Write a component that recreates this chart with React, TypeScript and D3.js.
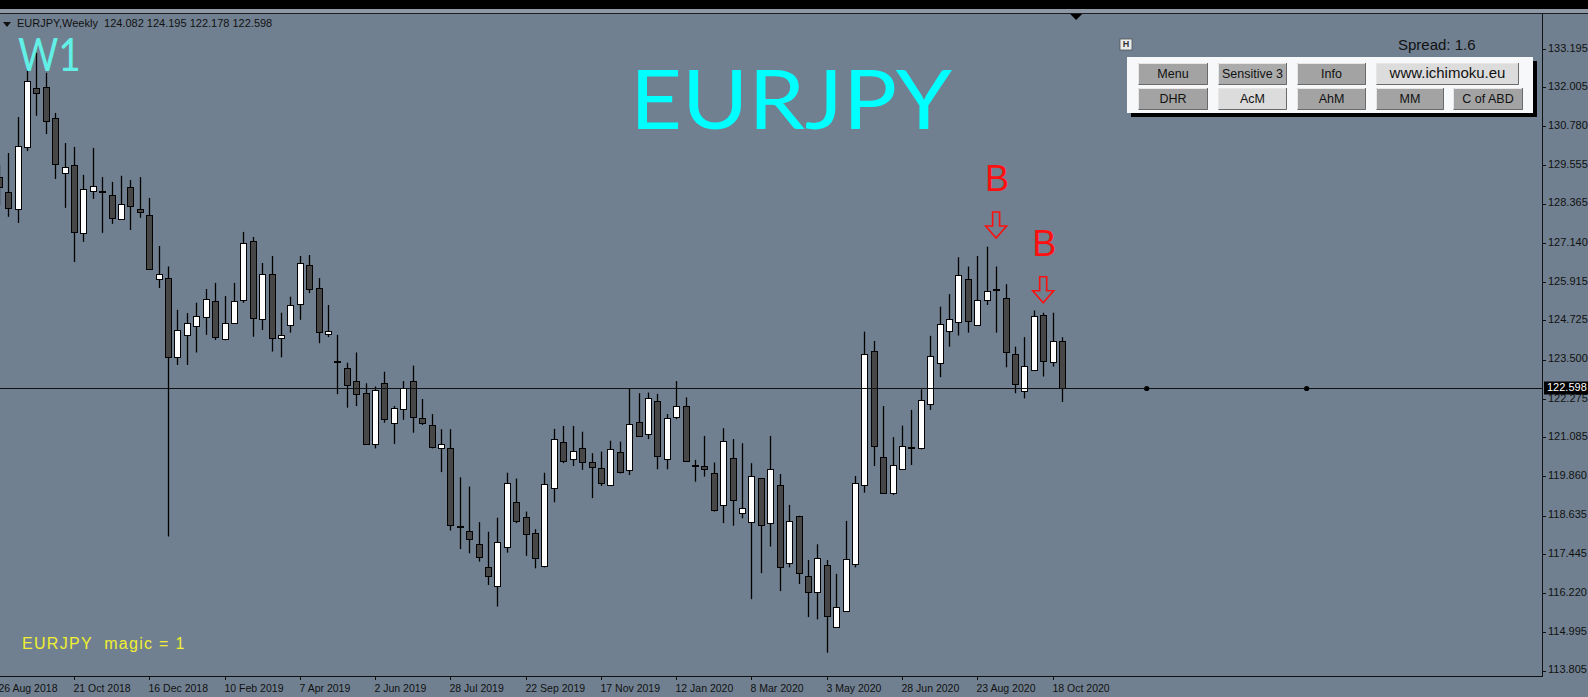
import React from 'react';
import * as d3 from 'd3';

const WIDTH = 1588;
const HEIGHT = 697;

const SYMBOL = 'EURJPY';
const TIMEFRAME = 'W1';
const PERIOD_NAME = 'Weekly';
const FIRST_WEEK = '26 Aug 2018';
const SPREAD = '1.6';
const MAGIC = 1;

const opens = [129.19, 128.73, 128.20, 130.13, 131.97, 132.00, 131.03, 129.32, 129.57, 127.45,
  128.76, 128.77, 128.63, 127.88, 128.88, 128.20, 128.01, 126.01, 126.05, 123.59,
  124.26, 124.55, 124.84, 125.32, 124.13, 124.65, 125.36, 127.20, 124.76, 126.16,
  124.16, 124.58, 125.23, 126.46, 125.72, 124.31, 123.46, 123.23, 122.82, 122.45,
  120.87, 122.76, 121.53, 121.95, 122.83, 121.69, 121.46, 120.73, 120.73, 118.31,
  118.16, 117.75, 117.02, 116.44, 117.67, 119.07, 118.60, 118.08, 117.07, 119.49,
  120.94, 120.39, 120.73, 120.30, 120.11, 119.59, 120.63, 120.06, 121.55, 121.18,
  122.21, 120.39, 121.72, 122.05, 120.20, 120.18, 119.95, 118.97, 120.44, 118.71,
  118.45, 119.80, 118.41, 119.59, 117.17, 118.63, 116.76, 116.24, 117.10, 115.17,
  115.66, 117.13, 119.59, 123.78, 120.47, 119.33, 120.08, 120.77, 120.73, 122.12,
  123.38, 124.39, 124.66, 126.01, 124.58, 125.36, 125.70, 125.43, 123.67, 122.53,
  123.18, 124.89, 123.42, 124.082];

const highs = [129.57, 129.94, 131.06, 132.81, 133.06, 132.44, 131.19, 130.25, 130.13, 129.26,
  130.10, 129.19, 129.04, 129.23, 129.10, 129.19, 128.54, 127.04, 126.40, 125.05,
  124.95, 125.27, 125.70, 125.89, 125.48, 125.89, 127.48, 127.32, 126.51, 126.73,
  124.96, 125.46, 126.73, 126.76, 126.04, 125.20, 124.27, 123.40, 123.72, 122.76,
  122.66, 123.12, 122.05, 122.83, 123.31, 122.27, 121.80, 121.33, 121.33, 119.83,
  119.54, 118.43, 118.13, 118.57, 119.97, 119.79, 118.76, 118.21, 119.97, 121.34,
  121.43, 121.43, 121.25, 120.58, 120.63, 120.97, 120.94, 122.61, 122.45, 122.47,
  122.43, 121.80, 122.83, 122.32, 120.37, 121.12, 120.29, 121.36, 121.02, 120.89,
  120.27, 119.80, 121.12, 119.93, 118.97, 118.63, 117.25, 117.74, 117.25, 116.82,
  118.47, 119.87, 124.37, 124.08, 122.05, 121.08, 121.44, 121.93, 122.57, 124.24,
  125.15, 125.54, 126.69, 126.40, 126.73, 127.02, 126.40, 125.85, 123.90, 124.20,
  125.03, 124.96, 124.96, 124.195];

const lows = [128.32, 127.95, 127.76, 130.00, 131.10, 130.53, 129.13, 128.23, 126.54, 127.17,
  128.51, 127.45, 127.73, 127.85, 127.54, 127.92, 126.29, 125.73, 117.98, 123.33,
  123.33, 123.72, 124.27, 124.11, 124.10, 124.61, 125.27, 124.21, 124.42, 123.75,
  123.57, 124.34, 124.74, 125.57, 124.01, 124.20, 122.42, 122.00, 122.05, 120.85,
  120.73, 121.53, 120.87, 121.62, 121.22, 121.46, 120.73, 119.99, 118.17, 117.59,
  117.46, 117.20, 116.47, 115.80, 117.48, 118.40, 117.38, 116.99, 117.02, 119.05,
  120.27, 120.18, 120.06, 119.18, 119.56, 119.56, 119.95, 119.90, 121.10, 121.02,
  120.08, 120.08, 121.64, 120.32, 119.69, 119.85, 118.76, 118.40, 118.32, 118.55,
  116.03, 116.84, 117.67, 116.28, 117.02, 116.50, 115.47, 115.40, 114.36, 115.15,
  115.63, 117.02, 119.35, 120.18, 119.31, 119.28, 120.06, 120.21, 120.70, 121.93,
  122.95, 123.90, 124.25, 124.34, 124.55, 125.20, 124.34, 123.26, 122.45, 122.29,
  123.16, 122.97, 123.28, 122.178];

const closes = [128.88, 128.23, 130.16, 132.19, 131.81, 130.94, 129.60, 129.51, 127.48, 128.82,
  128.91, 128.74, 127.92, 128.35, 128.29, 128.10, 126.33, 126.17, 123.59, 124.42,
  124.65, 124.87, 125.39, 124.21, 124.65, 125.32, 127.13, 124.81, 126.16, 124.18,
  124.27, 125.20, 126.50, 125.69, 124.35, 124.40, 123.44, 122.71, 122.42, 120.87,
  122.55, 121.64, 121.98, 122.61, 121.72, 121.53, 120.78, 120.87, 118.34, 118.27,
  117.90, 117.34, 116.76, 117.82, 119.66, 118.47, 118.05, 117.30, 119.62, 121.02,
  120.35, 120.66, 120.32, 120.16, 119.64, 120.70, 120.00, 121.49, 121.12, 122.31,
  120.50, 121.69, 122.05, 120.35, 120.18, 120.08, 118.81, 120.96, 119.12, 118.86,
  119.88, 118.34, 120.08, 117.02, 118.48, 116.84, 116.24, 117.30, 115.51, 115.80,
  117.27, 119.66, 123.67, 120.81, 119.35, 120.21, 120.81, 120.74, 122.24, 123.62,
  124.60, 124.77, 126.13, 124.71, 125.36, 125.65, 125.68, 123.73, 122.73, 123.30,
  124.87, 123.46, 124.09, 122.598];

const priceTicks = [133.195, 132.005, 130.780, 129.555, 128.365, 127.140, 125.915, 124.725,
  123.500, 122.275, 121.085, 119.860, 118.635, 117.445, 116.220, 114.995, 113.805];

const timeLabels = ['26 Aug 2018', '21 Oct 2018', '16 Dec 2018', '10 Feb 2019', '7 Apr 2019',
  '2 Jun 2019', '28 Jul 2019', '22 Sep 2019', '17 Nov 2019', '12 Jan 2020', '8 Mar 2020',
  '3 May 2020', '28 Jun 2020', '23 Aug 2020', '18 Oct 2020'];

// sell signals: bar index and price of arrow tip
const signalBars = [106, 111];
const signalPrices = [127.29, 125.27];
const signalLabels = ['B', 'B'];

// projected points (bars ahead of last bar) at current price
const projectionOffsets = [9, 26];

const buttonRows = [
  ['Menu', 'Sensitive 3', 'Info', 'www.ichimoku.eu'],
  ['DHR', 'AcM', 'AhM', 'MM', 'C of ABD'],
];
const lightButtons = ['www.ichimoku.eu', 'AcM'];

// ---- layout ----
const PLOT_RIGHT = 1542;
const PLOT_TOP = 14;
const PLOT_BOTTOM = 676;
const BG = '#708090';
const BEAR = '#474747';

const parseDate = d3.utcParse('%d %b %Y');

export default function App() {
  const n = closes.length;
  const x = d3.scaleLinear().domain([0, 113]).range([-1.3, 1062.0]);
  const y = d3.scaleLinear().domain([113.805, 133.195]).range([670.5, 48.6]);
  const start = parseDate(FIRST_WEEK) as Date;
  const weekIndex = (s: string) => Math.round(((parseDate(s) as Date).getTime() - start.getTime()) / (7 * 864e5));
  const last = n - 1;
  const lastClose = closes[last];
  const priceY = Math.round(y(lastClose)) + 0.5;
  const fmt = d3.format('.3f');

  const candles = d3.range(n).map((i) => {
    const cx = Math.round(x(i)) + 0.5;
    const o = opens[i], c = closes[i];
    const bull = c >= o;
    const top = Math.round(y(Math.max(o, c)));
    const bot = Math.round(y(Math.min(o, c)));
    return (
      <g key={i}>
        <line x1={cx} x2={cx} y1={y(highs[i])} y2={y(lows[i])} stroke="#000" strokeWidth={1.3} />
        <rect x={cx - 3} y={top + 0.5} width={6} height={Math.max(1, bot - top)}
          fill={bull ? '#ffffff' : BEAR} stroke="#000" strokeWidth={1} />
      </g>
    );
  });

  // buttons
  const btnW1 = [70, 69, 69, 143];
  const btnW2 = [70, 69, 69, 68, 70];
  const btnX1 = [1138, 1218, 1297, 1376];
  const btnX2 = [1138, 1218, 1297, 1376, 1453];
  const rowY = [63, 88];
  const buttons: JSX.Element[] = [];
  buttonRows.forEach((row, r) => {
    row.forEach((label, k) => {
      const bx = r === 0 ? btnX1[k] : btnX2[k];
      const bw = r === 0 ? btnW1[k] : btnW2[k];
      const by = rowY[r];
      const bh = 22;
      const light = lightButtons.includes(label);
      const fill = light ? '#dcdcdc' : label === 'Sensitive 3' ? '#ababab' : '#a3a3a3';
      buttons.push(
        <g key={label}>
          <rect x={bx} y={by} width={bw} height={bh} fill={fill} />
          <path d={`M${bx + 0.5},${by + bh} V${by + 0.5} H${bx + bw}`} stroke="#e6e6e6" fill="none" />
          <path d={`M${bx + 0.5},${by + bh - 0.5} H${bx + bw - 0.5} V${by}`} stroke="#6a6a6a" fill="none" />
          <text x={bx + bw / 2} y={by + bh / 2 + 0.5} textAnchor="middle" dominantBaseline="middle"
            fontFamily="'Liberation Sans', Arial, sans-serif" fontSize={label.startsWith('www') ? 15 : 12.5}
            fill="#111">{label}</text>
        </g>
      );
    });
  });

  return (
    <svg width={WIDTH} height={HEIGHT} style={{ position: 'absolute', left: 0, top: 0 }}
      xmlns="http://www.w3.org/2000/svg">
      <defs>
        <clipPath id="plot">
          <rect x={0} y={PLOT_TOP} width={PLOT_RIGHT} height={PLOT_BOTTOM - PLOT_TOP} />
        </clipPath>
      </defs>
      <rect x={0} y={0} width={WIDTH} height={HEIGHT} fill={BG} />
      {/* window top */}
      <rect x={0} y={0} width={WIDTH} height={9} fill="#000" />
      <rect x={0} y={9} width={WIDTH} height={4} fill="#8e99a5" />
      <line x1={0} x2={WIDTH} y1={13.5} y2={13.5} stroke="#1a1f25" />

      <g clipPath="url(#plot)">
        {candles}
        <line x1={0} x2={PLOT_RIGHT} y1={priceY} y2={priceY} stroke="#111" strokeWidth={1} />
        {projectionOffsets.map((k) => (
          <circle key={k} cx={x(last + k)} cy={priceY} r={2.6} fill="#000" />
        ))}
      </g>

      {/* chart shift marker */}
      <path d={`M${x(last + 1.5) - 6},${PLOT_TOP} h12 l-6,6 z`} fill="#000" />

      {/* axes */}
      <line x1={PLOT_RIGHT + 0.5} x2={PLOT_RIGHT + 0.5} y1={PLOT_TOP} y2={PLOT_BOTTOM} stroke="#111" />
      <line x1={0} x2={PLOT_RIGHT + 1} y1={PLOT_BOTTOM + 0.5} y2={PLOT_BOTTOM + 0.5} stroke="#111" />
      {priceTicks.map((p) => (
        <g key={p}>
          <line x1={PLOT_RIGHT} x2={PLOT_RIGHT + 4} y1={Math.round(y(p)) + 0.5} y2={Math.round(y(p)) + 0.5} stroke="#111" />
          <text x={PLOT_RIGHT + 6} y={y(p)} dominantBaseline="middle" fontSize={11}
            fontFamily="'Liberation Sans', Arial, sans-serif" fill="#111">{fmt(p)}</text>
        </g>
      ))}
      <rect x={PLOT_RIGHT + 2} y={priceY - 7} width={WIDTH - PLOT_RIGHT - 2} height={13} fill="#000" />
      <text x={PLOT_RIGHT + 5} y={priceY} dominantBaseline="middle" fontSize={11}
        fontFamily="'Liberation Sans', Arial, sans-serif" fill="#fff">{fmt(lastClose)}</text>

      {timeLabels.map((s) => {
        const tx = Math.round(x(weekIndex(s))) + 0.5;
        return (
          <g key={s}>
            <line x1={tx} x2={tx} y1={PLOT_BOTTOM} y2={PLOT_BOTTOM + 4} stroke="#111" />
            <text x={tx - 1} y={PLOT_BOTTOM + 13} dominantBaseline="middle" fontSize={10.5}
              fontFamily="'Liberation Sans', Arial, sans-serif" fill="#111">{s}</text>
          </g>
        );
      })}

      {/* header */}
      <path d="M3,22 h8 l-4,5 z" fill="#111" />
      <text x={17} y={27} fontSize={11} fontFamily="'Liberation Sans', Arial, sans-serif" fill="#111"
        style={{ whiteSpace: 'pre' }}>
        {`${SYMBOL},${PERIOD_NAME}  ${fmt(opens[last])} ${fmt(highs[last])} ${fmt(lows[last])} ${fmt(lastClose)}`}
      </text>

      {/* labels */}
      <text x={18} y={71} fontSize={46} fontFamily="Lato, 'DejaVu Sans', sans-serif" fontWeight={400}
        fill="#62f0e6" textLength={63} lengthAdjust="spacingAndGlyphs">{TIMEFRAME}</text>
      <text x={630} y={129} fontSize={81} fontFamily="Lato, 'DejaVu Sans', sans-serif" fontWeight={400}
        fill="#00ffff" textLength={322} lengthAdjust="spacingAndGlyphs">{SYMBOL}</text>
      <text x={22} y={649} fontSize={16} letterSpacing={1.3} fontFamily="'Liberation Sans', Arial, sans-serif" fill="#f0f030"
        style={{ whiteSpace: 'pre' }}>{`${SYMBOL}  magic = ${MAGIC}`}</text>

      {/* signals */}
      {signalBars.map((b, k) => {
        const cx = x(b);
        const ty = y(signalPrices[k]);
        const d = `M${cx - 3.5},${ty - 26} h7 v14 h7 l-10.5,12 l-10.5,-12 h7 z`;
        return (
          <g key={b}>
            <path d={d} fill="none" stroke="#ff1010" strokeWidth={1.6} />
            <text x={cx + 1} y={ty - 47} textAnchor="middle" fontSize={36}
              fontFamily="'Liberation Sans', Arial, sans-serif" fill="#ff1010">{signalLabels[k]}</text>
          </g>
        );
      })}

      {/* panel */}
      <text x={1398} y={50} fontSize={15} fontFamily="'Liberation Sans', Arial, sans-serif" fill="#111">
        {`Spread: ${SPREAD}`}
      </text>
      <rect x={1120} y={39} width={12} height={11} fill="#e8eaec" stroke="#555" strokeWidth={0.8} />
      <text x={1126} y={45} textAnchor="middle" dominantBaseline="middle" fontSize={9} fontWeight="bold"
        fontFamily="'Liberation Sans', Arial, sans-serif" fill="#333">H</text>
      <rect x={1131} y={61} width={406} height={56} fill="#000" />
      <rect x={1127} y={57} width={406} height={56} fill="#f6f8fa" />
      {buttons}
    </svg>
  );
}
